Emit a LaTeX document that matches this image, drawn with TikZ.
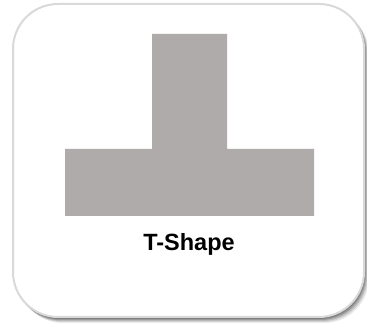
\documentclass[tikz,border=0pt]{standalone}
\usepackage{fontspec}
\setsansfont{Liberation Sans}
\usetikzlibrary{positioning}

\definecolor{shapegray}{RGB}{175,171,171}
\definecolor{cardedge}{RGB}{217,217,217}

\begin{document}
\begin{tikzpicture}[x=1pt, y=1pt,
  card/.style={draw=cardedge, line width=2pt, fill=white, rounded corners=45pt},
  caption/.style={font=\sffamily\bfseries\fontsize{23.5}{26}\selectfont, anchor=base, inner sep=0pt}]
  \useasboundingbox (0,0) rectangle (367,324);
  % soft shadow
  \foreach \s/\o in {5/0.08, 4/0.10, 3/0.13, 2/0.16, 1/0.18} {
    \fill[black, opacity=\o, rounded corners=45pt] (13+\s,7-\s-1) rectangle (364+\s,320-\s);
  }
  % card
  \draw[card] (13,7) rectangle (364,320);
  % T shape
  \fill[shapegray] (152,290) -- (227,290) -- (227,175) -- (314,175) -- (314,108)
    -- (65,108) -- (65,175) -- (152,175) -- cycle;
  \node[caption] (lbl) at (189,73) {T-Shape};
\end{tikzpicture}
\end{document}
